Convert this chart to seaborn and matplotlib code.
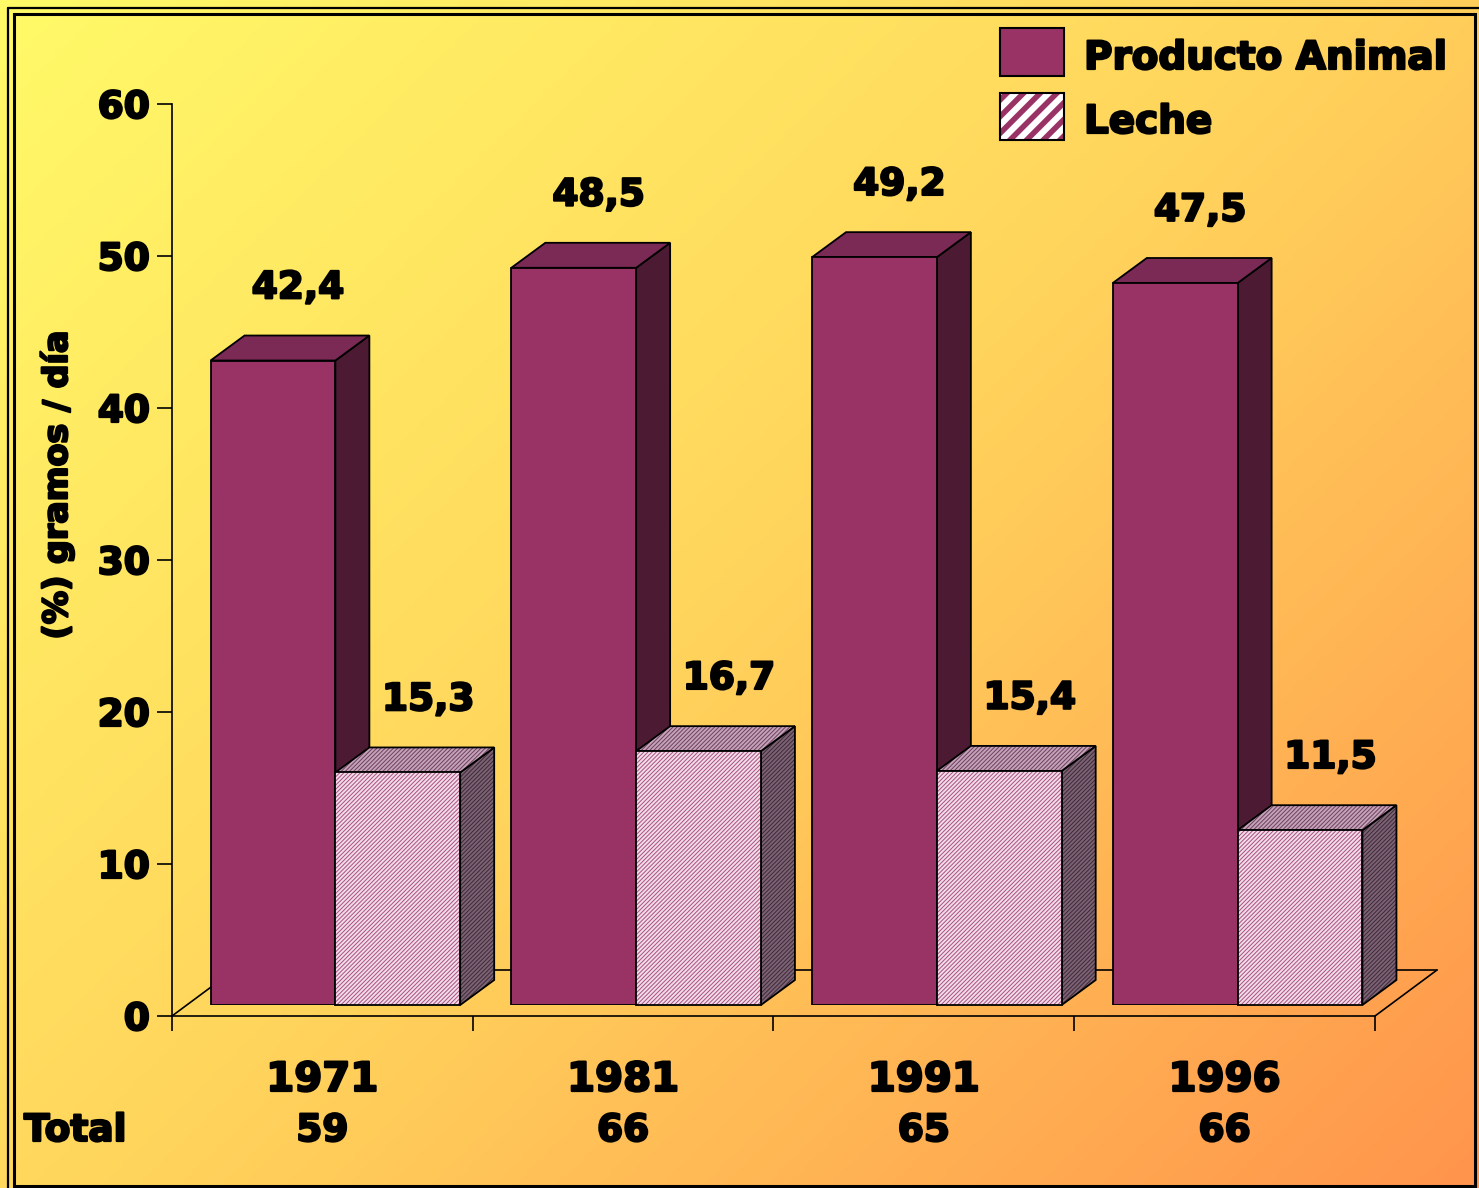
import numpy as np
import pandas as pd
import matplotlib
matplotlib.use("Agg")
import matplotlib.pyplot as plt
import matplotlib.patheffects as pe
import seaborn as sns
from matplotlib.patches import Polygon, Rectangle
from matplotlib.lines import Line2D
from matplotlib.transforms import blended_transform_factory

# ---------------- data ----------------
years = ["1971", "1981", "1991", "1996"]
totals = ["59", "66", "65", "66"]
series_names = ["Producto Animal", "Leche"]
producto = [42.4, 48.5, 49.2, 47.5]
leche = [15.3, 16.7, 15.4, 11.5]
yticks = [0, 10, 20, 30, 40, 50, 60]

df = pd.DataFrame({
    "year": years * 2,
    "serie": [series_names[0]] * 4 + [series_names[1]] * 4,
    "value": producto + leche,
})

# ---------------- style ----------------
sns.set_theme(style="white")
plt.rcParams["font.family"] = ["DejaVu Sans"]
plt.rcParams["font.weight"] = "bold"
plt.rcParams["hatch.linewidth"] = 0.7
for k in ["text.color", "axes.labelcolor", "xtick.color", "ytick.color"]:
    plt.rcParams[k] = "black"

BOLD = [pe.withStroke(linewidth=1.6, foreground="black")]

PLUM = "#993366"
PLUM_TOP = "#7A2A55"
PLUM_SIDE = "#4D1A33"

W, H = 1479, 1188
fig = plt.figure(figsize=(W / 100, H / 100), dpi=100)

# background gradient
bg = fig.add_axes([0, 0, 1, 1])
yy, xx = np.mgrid[0:1:300j, 0:1:300j]
t = (xx * 0.55 + yy * 0.45)
stops_t = [0.0, 0.5, 1.0]
c0 = np.array([255, 250, 104]) / 255
c1 = np.array([255, 212, 92]) / 255
c2 = np.array([255, 148, 76]) / 255
img = np.zeros((300, 300, 3))
for k in range(3):
    img[..., k] = np.interp(t, stops_t, [c0[k], c1[k], c2[k]])
bg.imshow(img, extent=[0, 1, 0, 1], aspect="auto", origin="upper")
bg.axis("off")
bg.set_zorder(0)

# axis frame (ticks, spines, floor)
ax = fig.add_axes([172 / W, 172 / H, 1203 / W, 912 / H])
ax.set_zorder(1)
ax.patch.set_alpha(0)
ax.set_xlim(-0.5, 3.5)
ax.set_ylim(0, 60)
ax.set_yticks(yticks)
ax.set_yticklabels([str(v) for v in yticks], fontsize=27, fontweight="bold")
for lab in ax.get_yticklabels():
    lab.set_path_effects(BOLD)
ax.set_xticks([-0.5, 0.5, 1.5, 2.5, 3.5])
ax.set_xticklabels([""] * 5)
ax.tick_params(axis="both", direction="out", length=11, width=1.2, color="black", pad=5)
ax.tick_params(axis="y", left=True)
ax.tick_params(axis="x", bottom=True)
for s in ["top", "right"]:
    ax.spines[s].set_visible(False)
for s in ["left", "bottom"]:
    ax.spines[s].set_color("black")
    ax.spines[s].set_linewidth(1.2)

# floor (3D base)
fx = 62 / (1203 / 4)
fy = 46 / (912 / 60)
floor_kw = dict(color="black", lw=1.2, clip_on=False)
ax.add_line(Line2D([-0.5, -0.5 + fx], [0, fy], **floor_kw))
ax.add_line(Line2D([-0.5 + fx, 3.5 + fx], [fy, fy], **floor_kw))
ax.add_line(Line2D([3.5, 3.5 + fx], [0, fy], **floor_kw))

fig.text(57 / W, 1 - 485 / H, "(%) gramos / día", rotation=90, ha="center",
         va="center", fontsize=24, fontweight="bold", path_effects=BOLD)

# year / total labels
tr = blended_transform_factory(ax.transData, fig.transFigure)
for i, (yr, tot) in enumerate(zip(years, totals)):
    ax.text(i, 1 - 1080 / H, yr, transform=tr, ha="center", va="center",
            fontsize=29, fontweight="bold", path_effects=BOLD)
    ax.text(i, 1 - 1131 / H, tot, transform=tr, ha="center", va="center",
            fontsize=27, fontweight="bold", path_effects=BOLD)
fig.text(24 / W, 1 - 1131 / H, "Total", ha="left", va="center",
         fontsize=27, fontweight="bold", path_effects=BOLD)

# bars axes (shifted for depth)
axb = fig.add_axes([185 / W, 183 / H, 1203 / W, 912 / H])
axb.set_zorder(2)
axb.patch.set_alpha(0)
sns.barplot(data=df, x="year", y="value", hue="serie", order=years,
            hue_order=series_names, palette=[PLUM, "#F4E0EC"], saturation=1,
            width=0.83, edgecolor="black", linewidth=1.3, legend=False, ax=axb)
axb.set_xlim(-0.5, 3.5)
axb.set_ylim(0, 60)
axb.axis("off")

dx = 34 / (1203 / 4)
dy = 25 / (912 / 60)


def hatched_poly(axis, pts, face, hcolor, z, hatch="////////"):
    p = Polygon(pts, closed=True, facecolor=face, edgecolor=hcolor, lw=0,
                hatch=hatch, zorder=z, clip_on=False)
    axis.add_patch(p)
    axis.add_patch(Polygon(pts, closed=True, fill=False, edgecolor="black",
                           lw=1.3, zorder=z + 0.05, clip_on=False))


prod_bars = axb.containers[0]
milk_bars = axb.containers[1]

for p in prod_bars:
    x0, w, h = p.get_x(), p.get_width(), p.get_height()
    p.set_zorder(3)
    top = [(x0, h), (x0 + w, h), (x0 + w + dx, h + dy), (x0 + dx, h + dy)]
    side = [(x0 + w, 0), (x0 + w, h), (x0 + w + dx, h + dy), (x0 + w + dx, dy)]
    axb.add_patch(Polygon(side, closed=True, facecolor=PLUM_SIDE, edgecolor="black",
                          lw=1.3, zorder=1.5, clip_on=False))
    axb.add_patch(Polygon(top, closed=True, facecolor=PLUM_TOP, edgecolor="black",
                          lw=1.3, zorder=1.6, clip_on=False))
    axb.annotate(f"{h:.1f}".replace(".", ","), (x0 + w / 2, h), xytext=(18, 52),
                 textcoords="offset points", ha="center", va="center",
                 fontsize=27, fontweight="bold", path_effects=BOLD)

for p in milk_bars:
    x0, w, h = p.get_x(), p.get_width(), p.get_height()
    front = [(x0, 0), (x0 + w, 0), (x0 + w, h), (x0, h)]
    p.set_visible(False)
    top = [(x0, h), (x0 + w, h), (x0 + w + dx, h + dy), (x0 + dx, h + dy)]
    side = [(x0 + w, 0), (x0 + w, h), (x0 + w + dx, h + dy), (x0 + w + dx, dy)]
    hatched_poly(axb, side, "#7C6274", "#3C2A36", 2.0)
    hatched_poly(axb, top, "#C4A3B8", "#6E3F60", 2.1)
    hatched_poly(axb, front, "#F2DCEA", "#A8507E", 3.0)
    axb.annotate(f"{h:.1f}".replace(".", ","), (x0 + w / 2, h), xytext=(22, 52),
                 textcoords="offset points", ha="center", va="center",
                 fontsize=27, fontweight="bold", path_effects=BOLD)

# overlay in pixel coordinates for legend and frame
ov = fig.add_axes([0, 0, 1, 1])
ov.set_zorder(5)
ov.patch.set_alpha(0)
ov.set_xlim(0, W)
ov.set_ylim(H, 0)
ov.axis("off")

ov.add_patch(Rectangle((1000, 28), 64, 48, facecolor=PLUM, edgecolor="black", lw=1.5))
leg_hatch = Rectangle((1000, 93), 64, 47, facecolor="white", edgecolor=PLUM, lw=0,
                      hatch="//")
if hasattr(leg_hatch, "set_hatch_linewidth"):
    leg_hatch.set_hatch_linewidth(4.0)
ov.add_patch(leg_hatch)
ov.add_patch(Rectangle((1000, 93), 64, 47, fill=False, edgecolor="black", lw=1.5))
ov.text(1084, 58, series_names[0], ha="left", va="center", fontsize=28,
        fontweight="bold", path_effects=BOLD)
ov.text(1084, 122, series_names[1], ha="left", va="center", fontsize=28,
        fontweight="bold", path_effects=BOLD)

# double frame
ov.add_patch(Rectangle((14, 14), 1461, 1172, fill=False, edgecolor="black", lw=2.2))
ov.add_line(Line2D([8, W], [8, 8], color="black", lw=1.6))
ov.add_line(Line2D([8, 8], [8, H], color="black", lw=1.6))

fig.savefig("out.png", dpi=100)
